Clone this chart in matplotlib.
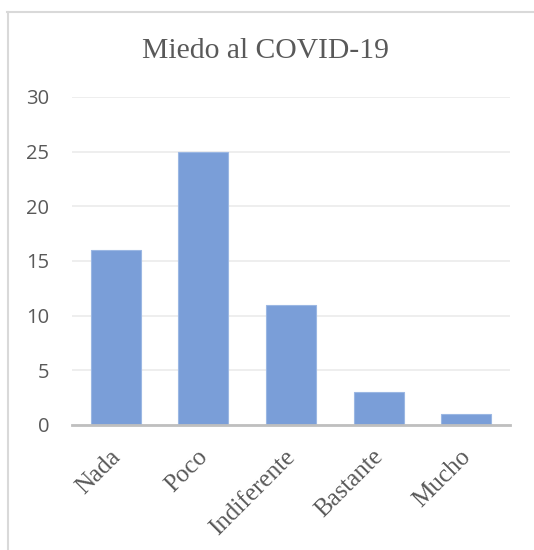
import matplotlib
matplotlib.use("Agg")
import matplotlib.pyplot as plt
from matplotlib.lines import Line2D
from matplotlib.transforms import ScaledTranslation

categories = ["Nada", "Poco", "Indiferente", "Bastante", "Mucho"]
values = [16, 25, 11, 3, 1]
yticks = [0, 5, 10, 15, 20, 25, 30]
title = "Miedo al COVID-19"

W, H = 534, 550
fig = plt.figure(figsize=(W / 100, H / 100), dpi=100)
fig.patch.set_facecolor("white")

# plot area in pixels: x 72..510, y 97..425 (top-origin)
left, right, top, bottom = 72, 510, 97, 425
ax = fig.add_axes([left / W, 1 - bottom / H, (right - left) / W, (bottom - top) / H])

x = list(range(len(categories)))
ax.bar(x, values, width=0.57, color="#7A9ED8", edgecolor="#9BB7E3", linewidth=0.8, zorder=3)
ax.set_xlim(-0.5, len(categories) - 0.5)
ax.set_ylim(0, 30)
ax.set_yticks(yticks)
ax.set_yticklabels([str(t) for t in yticks], fontsize=14.5, color="#595959", family="Open Sans")
ax.grid(axis="y", color="#EBEBEB", linewidth=1.2, zorder=0)
ax.set_axisbelow(True)
for s in ["top", "right", "left"]:
    ax.spines[s].set_visible(False)
ax.spines["bottom"].set_color("#BFBFBF")
ax.spines["bottom"].set_linewidth(2)
ax.spines["bottom"].set_zorder(4)
ax.tick_params(axis="both", length=0)
ax.tick_params(axis="y", pad=16.5)
ax.set_xticks(x)
ax.set_xticklabels(categories, rotation=45, ha="right", va="center", rotation_mode="anchor",
                   fontsize=18, color="#595959", family="Liberation Serif")
ax.tick_params(axis="x", pad=20.5)
off = ScaledTranslation(1 / 100, 0, fig.dpi_scale_trans)
for lbl in ax.get_xticklabels():
    lbl.set_transform(lbl.get_transform() + off)

fig.text(266 / W, 1 - 58 / H, title, ha="center", va="baseline", fontsize=21.3,
         color="#595959", family="Liberation Serif")

# chart frame (top and left only visible)
fig.add_artist(Line2D([7 / W, 1], [1 - 11.5 / H, 1 - 11.5 / H], transform=fig.transFigure,
                      color="#D9D9D9", linewidth=1.5))
fig.add_artist(Line2D([7.5 / W, 7.5 / W], [0, 1 - 11.5 / H], transform=fig.transFigure,
                      color="#D9D9D9", linewidth=1.5))

fig.savefig("out.png", dpi=100, facecolor="white")
